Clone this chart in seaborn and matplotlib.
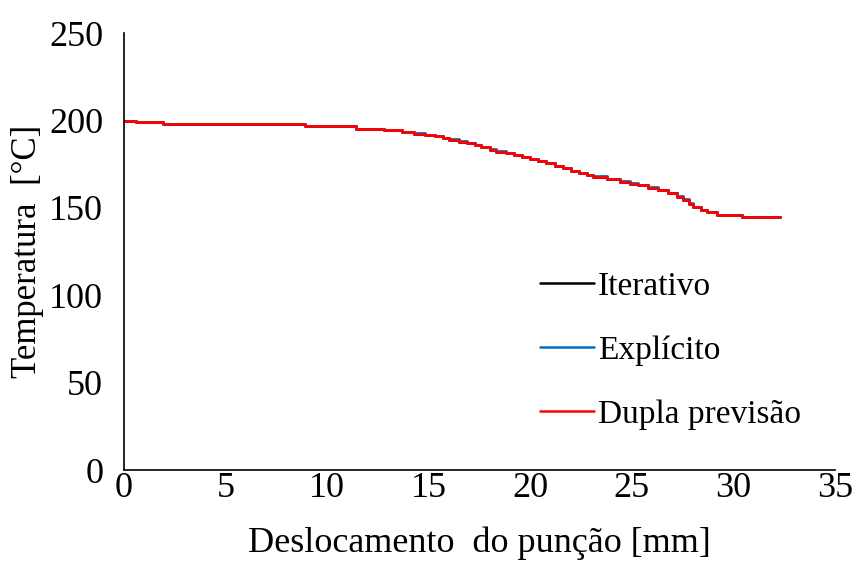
import matplotlib
matplotlib.use("Agg")
import matplotlib.pyplot as plt
import seaborn as sns
import pandas as pd

# Displacement [mm] (step positions)
desloc = [0.0, 0.6, 1.9, 8.9, 11.4, 12.8, 13.7, 14.3, 14.8, 15.3, 15.7, 16.0,
          16.5, 16.9, 17.3, 17.6, 18.0, 18.3, 18.8, 19.2, 19.6, 20.0, 20.4,
          20.8, 21.2, 21.6, 22.0, 22.4, 22.8, 23.1, 23.8, 24.4, 24.9, 25.3,
          25.8, 26.3, 26.8, 27.2, 27.5, 27.8, 28.0, 28.4, 28.7, 29.2, 30.4, 32.3]

temp_iterativo = [200.0, 199.3, 197.8, 196.8, 195.3, 194.4, 193.6, 192.6, 191.8,
                  190.9, 190.0, 189.0, 188.0, 187.0, 185.8, 184.7, 183.4, 182.2,
                  181.2, 180.2, 179.1, 178.0, 176.8, 175.5, 174.0, 172.6, 171.2,
                  169.8, 168.8, 168.0, 166.5, 165.0, 164.0, 163.0, 161.7, 160.2,
                  158.3, 156.4, 154.5, 152.2, 150.6, 148.7, 147.8, 145.9, 144.6,
                  144.6]

temp_explicito = [200.0, 199.3, 197.8, 196.8, 195.3, 194.4, 193.6, 192.8, 192.0,
                  191.1, 190.2, 189.2, 188.2, 187.2, 186.0, 184.9, 183.6, 182.4,
                  181.4, 180.4, 179.3, 178.2, 177.0, 175.7, 174.2, 172.8, 171.4,
                  170.0, 169.0, 168.2, 166.7, 165.2, 164.2, 163.3, 162.0, 160.5,
                  158.6, 156.8, 155.2, 152.6, 150.8, 148.9, 147.9, 145.9, 144.6,
                  144.6]

temp_dupla = [200.0, 199.3, 197.8, 196.8, 195.3, 194.4, 193.6, 192.6, 191.8,
              190.9, 190.0, 189.0, 188.0, 187.0, 185.8, 184.7, 183.4, 182.2,
              181.2, 180.2, 179.1, 178.0, 176.8, 175.5, 174.0, 172.6, 171.2,
              169.8, 168.8, 168.0, 166.5, 165.0, 164.0, 163.0, 161.7, 160.2,
              158.3, 156.4, 154.5, 152.2, 150.6, 148.7, 147.8, 145.9, 144.6,
              144.6]

series_names = ["Iterativo", "Explícito", "Dupla previsão"]
series_colors = ["#000000", "#0070C0", "#FF0000"]

df = pd.concat([
    pd.DataFrame({"x": desloc, "y": vals, "serie": name})
    for name, vals in zip(series_names, [temp_iterativo, temp_explicito, temp_dupla])
], ignore_index=True)

sns.set_style("white")
plt.rcParams["font.family"] = ["Liberation Serif", "DejaVu Serif"]
plt.rcParams["text.color"] = "black"

fig = plt.figure(figsize=(8.52, 5.72), dpi=100)
ax = fig.add_axes([0.1455, 0.178, 0.8345, 0.764])

sns.lineplot(data=df, x="x", y="y", hue="serie", hue_order=series_names,
             palette=series_colors, drawstyle="steps-post", linewidth=2.0,
             sort=False, estimator=None, ax=ax)

ax.set_xlim(0, 35)
ax.set_ylim(0, 250)
ax.set_xticks(range(0, 36, 5))
ax.set_yticks(range(0, 251, 50))
ax.tick_params(axis="both", labelsize=26, direction="in", length=6, width=1,
               color="black", labelcolor="black")
ax.tick_params(axis="x", pad=1)
ax.tick_params(axis="y", pad=15)

for s in ["top", "right"]:
    ax.spines[s].set_visible(False)
for s in ["left", "bottom"]:
    ax.spines[s].set_color("black")
    ax.spines[s].set_linewidth(1.2)

ax.set_xlabel("Deslocamento  do punção [mm]", fontsize=26, color="black", labelpad=16)
ax.set_ylabel("Temperatura  [°C]", fontsize=25, color="black")
ax.yaxis.set_label_coords(-0.113, 0.5)

leg = ax.legend(loc="upper left", bbox_to_anchor=(0.567, 0.485), frameon=False,
                fontsize=24, handlelength=1.62, handletextpad=0.1,
                labelspacing=1.0, borderaxespad=0)
for line in leg.get_lines():
    line.set_linewidth(1.8)
for t in leg.get_texts():
    t.set_color("black")

fig.savefig("out.png", dpi=100)
